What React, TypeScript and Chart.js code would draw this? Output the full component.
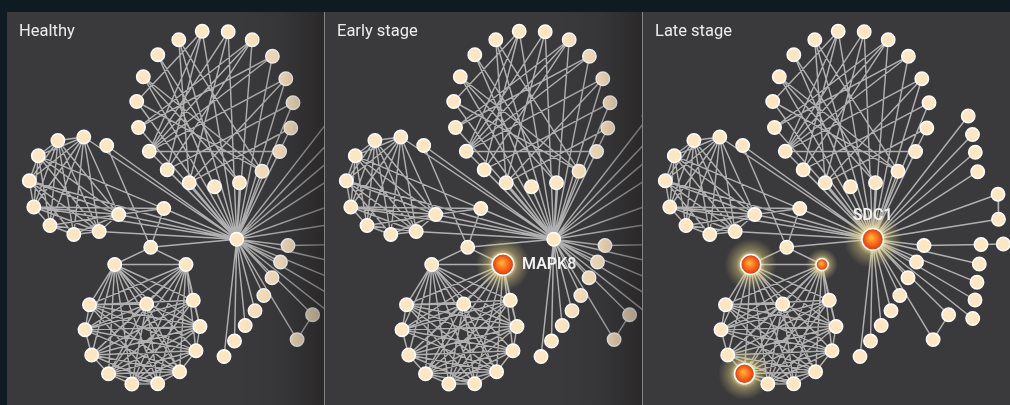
import React, { useEffect, useRef } from "react";
import { Chart, registerables } from "chart.js";
Chart.register(...registerables);

type N = [string, number, number];
type E = [string, string];

const panelTitles = ["Healthy", "Early stage", "Late stage"];

// node positions (shared network layout, same in every panel)
const topArcNodes: N[] = [
  ["t0", 138.5, 127.5], ["t1", 136.7, 101.5], ["t2", 143.3, 76.7], ["t3", 157.8, 54.8],
  ["t4", 178.8, 39.7], ["t5", 202.2, 31.3], ["t6", 228.2, 31.7], ["t7", 252.2, 39.8],
  ["t8", 272.4, 56.2], ["t9", 285.8, 78.7], ["t10", 293, 102.8], ["t11", 290.8, 128],
  ["t12", 279.6, 151.5], ["t13", 262, 171.2], ["t14", 239.5, 182.7], ["t15", 214.5, 186.7],
  ["t16", 189.2, 182.8], ["t17", 167.2, 169.8], ["t18", 149.3, 151.3],
];
const leftClusterNodes: N[] = [
  ["l0", 57.9, 140.5], ["l1", 83.8, 137], ["l2", 106.7, 145.5], ["l3", 38.3, 155.7],
  ["l4", 29.3, 180.8], ["l5", 33.8, 207], ["l6", 50, 225.5], ["l7", 73.8, 234.5],
  ["l8", 99.2, 231.5], ["l9", 118.7, 214.5],
];
const bridgeNodes: N[] = [["k1", 163.8, 208.5], ["k2", 150.7, 247.3], ["h", 236.7, 239.3]];
const bottomClusterNodes: N[] = [
  ["b0", 114.7, 264.5], ["b1", 186, 264.5], ["b2", 89.5, 304.7], ["b3", 146.7, 304],
  ["b4", 193.3, 300.3], ["b5", 85, 329.8], ["b6", 200, 326.5], ["b7", 91.7, 355],
  ["b8", 196, 350.8], ["b9", 108.5, 373.8], ["b10", 131.8, 384], ["b11", 157.7, 383.8],
  ["b12", 179.6, 371.7],
];
const fanNodes: N[] = [
  ["f0", 280.5, 262], ["f1", 272, 277.8], ["f2", 263.8, 295.5], ["f3", 255, 310.8],
  ["f4", 245.2, 325.5], ["f5", 234.5, 341], ["f6", 224, 356.5],
];
const rightNodes: N[] = [
  ["c0", 288, 245.5], ["c1", 345, 244.5], ["c2", 367.3, 244],
  ["a1", 332.2, 116], ["a2", 336.5, 134.5], ["a3", 339.3, 152.3], ["a4", 341.7, 171.7],
  ["q1", 362, 194.3], ["q2", 362.5, 219.3],
  ["d1", 343.3, 264], ["d2", 341, 282.3], ["d3", 339, 300], ["d4", 336.7, 318.5],
  ["e1", 312.6, 314.8], ["e2", 297.1, 339.6],
];

// edges
const hubTargets: string[] = [
  "t0", "t1", "t2", "t3", "t4", "t5", "t6", "t7", "t8", "t9", "t10", "t11", "t12", "t13", "t14", "t15", "t16", "t17", "t18",
  "l1", "l2", "l3", "l4", "l5", "l8", "l9", "k1", "k2",
  "f0", "f1", "f2", "f3", "f4", "f5", "f6",
  "c0", "a1", "a2", "a3", "a4", "q1", "q2", "d1", "d2", "d3", "d4", "e1", "e2",
];
const topArcEdges: E[] = [
  ["t18", "t5"], ["t18", "t6"], ["t18", "t7"], ["t18", "t8"], ["t18", "t9"], ["t18", "t12"],
  ["t0", "t7"], ["t0", "t8"],
  ["t1", "t5"], ["t1", "t13"],
  ["t2", "t13"], ["t2", "t14"],
  ["t3", "t14"], ["t3", "t15"],
  ["t4", "t13"], ["t4", "t16"],
  ["t5", "t17"], ["t6", "t16"], ["t7", "t17"],
  ["t9", "t16"], ["t10", "t17"], ["t11", "t16"],
];
const leftClusterEdges: E[] = [
  ["l0", "l1"], ["l0", "l3"], ["l0", "l4"], ["l0", "l5"], ["l0", "l6"], ["l0", "l7"], ["l0", "l8"], ["l0", "l9"],
  ["l1", "l3"], ["l1", "l4"], ["l1", "l5"], ["l1", "l6"], ["l1", "l7"], ["l1", "l8"], ["l1", "l9"],
  ["l3", "l4"], ["l3", "l5"], ["l3", "l6"], ["l3", "l8"], ["l3", "l9"],
  ["l4", "l5"], ["l4", "l7"], ["l4", "l8"], ["l4", "l9"],
  ["l5", "l6"], ["l5", "l8"], ["l5", "l9"],
  ["l6", "l7"], ["l6", "l8"], ["l6", "l9"],
  ["l7", "l8"], ["l7", "l9"], ["l8", "l9"],
];
const bridgeEdges: E[] = [
  ["k1", "k2"], ["k1", "l9"], ["k1", "l5"], ["k2", "l2"], ["k2", "b0"], ["k2", "b1"], ["b0", "b1"],
];
const bottomClusterEdges: E[] = [
  ["b0", "b2"], ["b0", "b3"], ["b0", "b4"], ["b0", "b5"], ["b0", "b6"], ["b0", "b7"], ["b0", "b8"], ["b0", "b9"], ["b0", "b10"], ["b0", "b11"], ["b0", "b12"],
  ["b1", "b2"], ["b1", "b3"], ["b1", "b4"], ["b1", "b5"], ["b1", "b6"], ["b1", "b7"], ["b1", "b8"], ["b1", "b9"], ["b1", "b10"], ["b1", "b11"], ["b1", "b12"],
  ["b2", "b3"], ["b2", "b4"], ["b2", "b5"], ["b2", "b6"], ["b2", "b8"], ["b2", "b11"], ["b2", "b12"],
  ["b3", "b5"], ["b3", "b6"], ["b3", "b7"], ["b3", "b9"], ["b3", "b10"], ["b3", "b11"], ["b3", "b12"],
  ["b4", "b5"], ["b4", "b6"], ["b4", "b7"], ["b4", "b9"], ["b4", "b10"],
  ["b5", "b6"], ["b5", "b7"], ["b5", "b8"], ["b5", "b12"],
  ["b6", "b7"], ["b6", "b8"], ["b6", "b9"], ["b6", "b10"],
  ["b7", "b8"], ["b7", "b9"], ["b7", "b11"], ["b7", "b12"],
  ["b8", "b9"], ["b8", "b10"], ["b8", "b12"],
  ["b9", "b10"], ["b9", "b11"], ["b9", "b12"],
  ["b10", "b11"], ["b10", "b12"], ["b11", "b12"],
];
const outerEdges: E[] = [["c0", "c1"], ["c1", "c2"], ["q1", "q2"], ["e1", "e2"]];

// per-panel highlighted genes
type HL = { id: string; r: number; glow: number; label?: string; lx?: number; ly?: number; align?: CanvasTextAlign };
const panelHighlights: HL[][] = [
  [],
  [{ id: "b1", r: 10.8, glow: 27, label: "MAPK8", lx: 19, ly: 0, align: "left" }],
  [
    { id: "h", r: 10.8, glow: 29, label: "SDC1", lx: 0, ly: -23.5, align: "center" },
    { id: "b0", r: 10, glow: 26 },
    { id: "b1", r: 6, glow: 16 },
    { id: "b9", r: 10, glow: 26 },
  ],
];

// panel frames (window pixels)
const panelLeft = [7, 325, 643];
const panelWidth = [317, 317, 367];
const panelXMin = [7, 8, 7];
const Y_MIN = 12;
const Y_MAX = 405;

const BG = "#3a3a3c";
const FRAME = "#0e1b23";
const EDGE = "#b0b0b0";
const NODE = "#fde6c2";
const RED = "#f0501a";

const allNodes: N[] = [...topArcNodes, ...leftClusterNodes, ...bridgeNodes, ...bottomClusterNodes, ...fanNodes, ...rightNodes];
const nodeMap: Record<string, { x: number; y: number }> = {};
allNodes.forEach(([id, x, y]) => (nodeMap[id] = { x, y }));

const allEdges: E[] = [
  ...hubTargets.map((t) => ["h", t] as E),
  ...topArcEdges,
  ...leftClusterEdges,
  ...bridgeEdges,
  ...bottomClusterEdges,
  ...outerEdges,
];

function Panel({ idx }: { idx: number }) {
  const ref = useRef<HTMLCanvasElement | null>(null);
  useEffect(() => {
    const canvas = ref.current;
    if (!canvas) return;
    const hl = panelHighlights[idx];
    const hlMap: Record<string, HL> = {};
    hl.forEach((h) => (hlMap[h.id] = h));

    const edgeData: { x: number; y: number }[] = [];
    allEdges.forEach(([a, b]) => {
      edgeData.push({ x: nodeMap[a].x, y: nodeMap[a].y });
      edgeData.push({ x: nodeMap[b].x, y: nodeMap[b].y });
      edgeData.push({ x: NaN, y: NaN });
    });

    const nodeOrder = allNodes.filter(([id]) => !hlMap[id]).concat(allNodes.filter(([id]) => !!hlMap[id]));
    const nodeData = nodeOrder.map(([id, x, y]) => ({ x, y, id }));
    const glowData = hl.map((h) => ({ x: nodeMap[h.id].x, y: nodeMap[h.id].y, id: h.id }));

    const px = (c: any, x: number, y: number): number[] | null => {
      if (!c.scales || !c.scales.x || !c.scales.y) return null;
      const a = c.scales.x.getPixelForValue(x);
      const b = c.scales.y.getPixelForValue(y);
      if (!isFinite(a) || !isFinite(b)) return null;
      return [a, b];
    };

    const bgPlugin = {
      id: "bg",
      beforeDraw(c: any) {
        const ctx = c.ctx;
        ctx.save();
        ctx.fillStyle = BG;
        ctx.fillRect(0, 0, c.width, c.height);
        ctx.restore();
      },
    };
    const labelPlugin = {
      id: "labels",
      afterDatasetsDraw(c: any) {
        const ctx = c.ctx;
        ctx.save();
        ctx.font = "600 16px Roboto, 'Open Sans', sans-serif";
        ctx.fillStyle = "#f2f2f2";
        ctx.textBaseline = "middle";
        hl.forEach((h) => {
          if (!h.label) return;
          const p = px(c, nodeMap[h.id].x, nodeMap[h.id].y);
          if (!p) return;
          ctx.textAlign = h.align || "left";
          ctx.fillText(h.label, p[0] + (h.lx || 0), p[1] + (h.ly || 0));
        });
        ctx.restore();
      },
      afterDraw(c: any) {
        if (idx > 1) return;
        const ctx = c.ctx;
        const W = c.width;
        ctx.save();
        const g = ctx.createLinearGradient(W - 85, 0, W, 0);
        g.addColorStop(0, "rgba(20,14,14,0)");
        g.addColorStop(0.5, "rgba(20,14,14,0.1)");
        g.addColorStop(1, "rgba(20,14,14,0.4)");
        ctx.fillStyle = g;
        ctx.fillRect(W - 85, 0, 85, c.height);
        ctx.restore();
      },
    };

    const chart = new Chart(canvas, {
      type: "scatter",
      data: {
        datasets: [
          {
            label: "edges",
            data: edgeData,
            showLine: true,
            spanGaps: false,
            borderColor: EDGE,
            borderWidth: 1.45,
            pointRadius: 0,
            pointHoverRadius: 0,
            order: 3,
          } as any,
          {
            label: "glow",
            data: glowData,
            pointRadius: glowData.map((g) => hlMap[g.id].glow),
            borderWidth: 0,
            backgroundColor: (ctx: any) => {
              const d = glowData[ctx.dataIndex];
              if (!d) return "rgba(0,0,0,0)";
              const p = px(ctx.chart, d.x, d.y);
              if (!p) return "rgba(255,240,160,0.2)";
              const h = hlMap[d.id];
              const gr = ctx.chart.ctx.createRadialGradient(p[0], p[1], h.r * 0.8, p[0], p[1], h.glow);
              gr.addColorStop(0, "rgba(255,246,170,0.9)");
              gr.addColorStop(0.35, "rgba(240,225,140,0.4)");
              gr.addColorStop(1, "rgba(220,200,120,0)");
              return gr;
            },
            order: 2,
          } as any,
          {
            label: "nodes",
            data: nodeData,
            pointRadius: nodeData.map((n) => (hlMap[n.id] ? hlMap[n.id].r : 6.7)),
            borderWidth: 1.5,
            borderColor: "#ffffff",
            backgroundColor: (ctx: any) => {
              const d = nodeData[ctx.dataIndex];
              if (!d || !hlMap[d.id]) return NODE;
              const p = px(ctx.chart, d.x, d.y);
              if (!p) return RED;
              const r = hlMap[d.id].r;
              const gr = ctx.chart.ctx.createRadialGradient(p[0] - r * 0.15, p[1] - r * 0.2, 0, p[0], p[1], r);
              gr.addColorStop(0, "#ffc13a");
              gr.addColorStop(0.45, "#fb7a1e");
              gr.addColorStop(1, "#e5300f");
              return gr;
            },
            order: 1,
          } as any,
        ],
      },
      options: {
        animation: false,
        responsive: false,
        devicePixelRatio: 1,
        events: [],
        layout: { padding: 0, autoPadding: false },
        plugins: { legend: { display: false }, tooltip: { enabled: false }, title: { display: false } },
        scales: {
          x: { type: "linear", display: false, min: panelXMin[idx], max: panelXMin[idx] + panelWidth[idx] },
          y: { type: "linear", display: false, reverse: true, min: Y_MIN, max: Y_MAX },
        },
      },
      plugins: [bgPlugin, labelPlugin],
    });
    return () => chart.destroy();
  }, [idx]);

  return (
    <div style={{ position: "absolute", left: panelLeft[idx], top: Y_MIN, width: panelWidth[idx], height: Y_MAX - Y_MIN }}>
      <canvas ref={ref} width={panelWidth[idx]} height={Y_MAX - Y_MIN} style={{ display: "block" }} />
      <div
        style={{
          position: "absolute",
          left: 12,
          top: 9,
          fontFamily: "Roboto, 'Open Sans', sans-serif",
          fontSize: 16.5,
          lineHeight: "20px",
          color: "#ececec",
          whiteSpace: "nowrap",
        }}
      >
        {panelTitles[idx]}
      </div>
    </div>
  );
}

export default function App() {
  return (
    <div style={{ position: "fixed", left: 0, top: 0, width: 1010, height: 405, background: FRAME, overflow: "hidden" }}>
      {[0, 1, 2].map((i) => (
        <Panel key={i} idx={i} />
      ))}
      <div style={{ position: "absolute", left: 324, top: Y_MIN, width: 1, height: Y_MAX - Y_MIN, background: "#858585" }} />
      <div style={{ position: "absolute", left: 642, top: Y_MIN, width: 1, height: Y_MAX - Y_MIN, background: "#858585" }} />
    </div>
  );
}
